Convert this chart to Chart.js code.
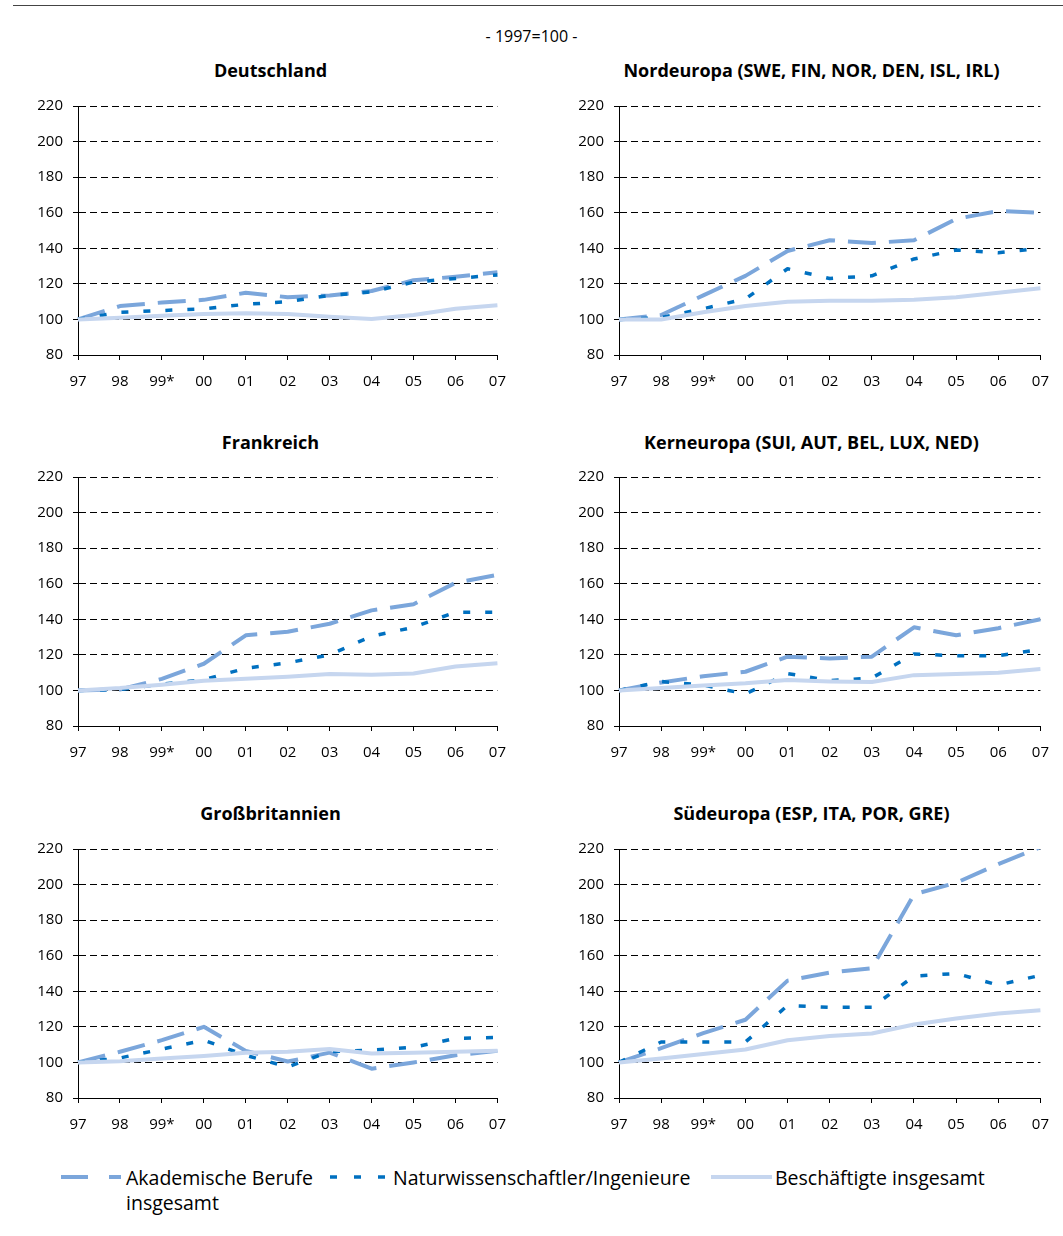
<!DOCTYPE html>
<html>
<head>
<meta charset="utf-8">
<script src="https://cdn.jsdelivr.net/npm/chart.js@4.4.1/dist/chart.umd.min.js"></script>
<style>
  body { margin: 0; background: #fff; font-family: 'Open Sans', sans-serif; }
  #page { position: relative; width: 1063px; height: 1236px; overflow: hidden; }
  .topline { position: absolute; left: 13px; top: 5px; width: 1050px; height: 0; border-top: 1.5px solid #444; }
  .subtitle { position: absolute; left: 0; top: 24px; width: 1063px; text-align: center; font-size: 16px; line-height: 24px; color: #000; }
  .panel { position: absolute; height: 348px; }
  .ptitle { position: absolute; width: 600px; margin-left: -300px; text-align: center; font-size: 18px; font-weight: bold; line-height: 24px; color: #000; }
  .legend-line { position: absolute; }
  .legend-text { position: absolute; font-size: 19.5px; line-height: 25px; color: #000; }
</style>
</head>
<body>
<div id="page">
  <div class="topline"></div>
  <div class="subtitle">- 1997=100 -</div>
  <div id="titles"></div>
  <div class="panel" style="left:11px;top:56px;width:508px"><canvas id="c1"></canvas></div>
  <div class="panel" style="left:552px;top:56px;width:510px"><canvas id="c2"></canvas></div>
  <div class="panel" style="left:11px;top:427px;width:508px"><canvas id="c3"></canvas></div>
  <div class="panel" style="left:552px;top:427px;width:510px"><canvas id="c4"></canvas></div>
  <div class="panel" style="left:11px;top:799px;width:508px"><canvas id="c5"></canvas></div>
  <div class="panel" style="left:552px;top:799px;width:510px"><canvas id="c6"></canvas></div>
  <div id="legend"></div>
</div>
<script>
// categories
const years = ['97', '98', '99*', '00', '01', '02', '03', '04', '05', '06', '07'];
const yTicks = [80, 100, 120, 140, 160, 180, 200, 220];
const seriesNames = ['Akademische Berufe insgesamt', 'Naturwissenschaftler/Ingenieure', 'Beschäftigte insgesamt'];

// Deutschland
const deAkad  = [100, 107.5, 109.5, 111, 115, 112.5, 113.5, 116, 122, 124, 126.5];
const deNatur = [100, 104, 105, 106, 108.5, 110, 113.5, 115.5, 121, 123, 125];
const deGes   = [100, 101, 102, 103, 103.5, 103, 101.5, 100.2, 102.5, 106, 108];

// Nordeuropa
const noAkad  = [100, 102.5, 113.5, 124.5, 138.5, 144.5, 143, 144.5, 156.5, 161, 160];
const noNatur = [100, 101, 106, 111.5, 128.5, 123, 124.5, 134, 139, 137.5, 140];
const noGes   = [100, 100, 104, 107.5, 110, 110.5, 110.5, 111, 112.5, 115, 117.5];

// Frankreich
const frAkad  = [100, 100.5, 106.5, 115, 131, 133, 137.5, 145, 148.5, 160.5, 165];
const frNatur = [100, 100.5, 103.5, 106, 112.5, 115.5, 120, 130.5, 135.5, 144, 144];
const frGes   = [100, 101.3, 103.2, 105.4, 106.5, 107.7, 109.2, 108.8, 109.5, 113.5, 115.3];

// Kerneuropa
const keAkad  = [100, 104.5, 108, 110.5, 119, 118, 119, 135.5, 131, 135, 140];
const keNatur = [100, 105, 103, 98, 109.5, 105.5, 107, 120.5, 119.5, 119.5, 123];
const keGes   = [100, 101.3, 102.8, 104, 105.8, 105, 104.7, 108.6, 109.3, 110, 112];

// Großbritannien
const gbAkad  = [100, 106, 112.5, 120, 106.5, 100.5, 105.5, 96.5, 100, 104, 106.5];
const gbNatur = [100, 102.5, 107.5, 112.5, 104, 97.5, 106, 107, 108.5, 113.5, 114];
const gbGes   = [100, 100.7, 102.2, 103.6, 105.4, 106, 107.5, 105, 105.4, 106, 106.5];

// Südeuropa
const soAkad  = [100, 108, 116.5, 124, 146, 150.5, 153, 194.5, 201, 211.5, 221];
const soNatur = [100, 111.5, 111.5, 111.5, 132, 131, 131, 148.5, 150, 143.5, 149];
const soGes   = [100, 102.2, 104.8, 107.3, 112.5, 114.8, 116.3, 121.3, 124.7, 127.5, 129.3];

// line styles (same order as seriesNames)
const lineStyles = [
  { color: '#7BA6DB', width: 4, dash: [28, 13], order: 2 },
  { color: '#0070C0', width: 3.5, dash: [7, 15], order: 1 },
  { color: '#C6D6EF', width: 4, dash: [], order: 0 }
];

const panels = [
  { id: 'c1', title: 'Deutschland', series: [deAkad, deNatur, deGes], cx: 270.5, cy: 70 },
  { id: 'c2', title: 'Nordeuropa (SWE, FIN, NOR, DEN, ISL, IRL)', series: [noAkad, noNatur, noGes], cx: 811.5, cy: 70 },
  { id: 'c3', title: 'Frankreich', series: [frAkad, frNatur, frGes], cx: 270.5, cy: 441.5 },
  { id: 'c4', title: 'Kerneuropa (SUI, AUT, BEL, LUX, NED)', series: [keAkad, keNatur, keGes], cx: 811.5, cy: 441.5 },
  { id: 'c5', title: 'Großbritannien', series: [gbAkad, gbNatur, gbGes], cx: 270.5, cy: 812.5 },
  { id: 'c6', title: 'Südeuropa (ESP, ITA, POR, GRE)', series: [soAkad, soNatur, soGes], cx: 811.5, cy: 812.5 }
];

Chart.defaults.font.family = "'Open Sans', sans-serif";
Chart.defaults.color = '#000';

function makePanel(p) {
  const t = document.createElement('div');
  t.className = 'ptitle';
  t.style.left = p.cx + 'px';
  t.style.top = (p.cy - 12) + 'px';
  t.textContent = p.title;
  document.getElementById('titles').appendChild(t);

  const ctx = document.getElementById(p.id).getContext('2d');
  return new Chart(ctx, {
    type: 'line',
    data: {
      labels: years,
      datasets: p.series.map((values, i) => ({
        label: seriesNames[i],
        data: values,
        borderColor: lineStyles[i].color,
        borderWidth: lineStyles[i].width,
        borderDash: lineStyles[i].dash,
        borderCapStyle: 'butt',
        borderJoinStyle: 'round',
        order: lineStyles[i].order,
        tension: 0,
        pointRadius: 0,
        fill: false
      }))
    },
    options: {
      responsive: true,
      maintainAspectRatio: false,
      animation: false,
      events: [],
      layout: { padding: { left: 0, right: 0, top: 50, bottom: 0 } },
      plugins: {
        legend: { display: false },
        tooltip: { enabled: false },
        title: { display: false }
      },
      scales: {
        x: {
          offset: false,
          grid: { drawOnChartArea: false, drawTicks: true, tickLength: 5, color: '#000', lineWidth: 1 },
          border: { display: true, color: '#000', width: 1 },
          ticks: { padding: 13, color: '#000', font: { size: 15 }, maxRotation: 0, autoSkip: false }
        },
        y: {
          min: yTicks[0],
          max: yTicks[yTicks.length - 1],
          afterBuildTicks: (scale) => { scale.ticks = yTicks.map(v => ({ value: v })); },
          afterFit: (scale) => { scale.width = 67; },
          grid: { color: '#000', lineWidth: 1, tickLength: 5, tickColor: '#000', tickBorderDash: [] },
          border: { display: true, color: '#000', width: 1, dash: [7, 4] },
          ticks: { padding: 10, color: '#000', font: { size: 15 } }
        }
      }
    }
  });
}

panels.forEach(makePanel);

// shared legend below the panels
const legendPos = [
  { lineX: 61, lineW: 60, textX: 126, textW: 200 },
  { lineX: 330, lineW: 56, textX: 393, textW: 320 },
  { lineX: 711, lineW: 61, textX: 775, textW: 260 }
];
const legendY = 1177;
const legend = document.getElementById('legend');
seriesNames.forEach((name, i) => {
  const s = lineStyles[i];
  const pos = legendPos[i];
  const svg = document.createElementNS('http://www.w3.org/2000/svg', 'svg');
  svg.setAttribute('class', 'legend-line');
  svg.setAttribute('width', pos.lineW);
  svg.setAttribute('height', 10);
  svg.style.left = pos.lineX + 'px';
  svg.style.top = (legendY - 5) + 'px';
  const line = document.createElementNS('http://www.w3.org/2000/svg', 'line');
  line.setAttribute('x1', 0);
  line.setAttribute('x2', pos.lineW);
  line.setAttribute('y1', 5);
  line.setAttribute('y2', 5);
  line.setAttribute('stroke', s.color);
  line.setAttribute('stroke-width', s.width);
  if (i === 0) line.setAttribute('stroke-dasharray', '27 21');
  if (i === 1) line.setAttribute('stroke-dasharray', '7 17');
  svg.appendChild(line);
  legend.appendChild(svg);

  const txt = document.createElement('div');
  txt.className = 'legend-text';
  txt.style.left = pos.textX + 'px';
  txt.style.top = (legendY - 12.5) + 'px';
  txt.style.width = pos.textW + 'px';
  txt.textContent = name;
  legend.appendChild(txt);
});
</script>
</body>
</html>
